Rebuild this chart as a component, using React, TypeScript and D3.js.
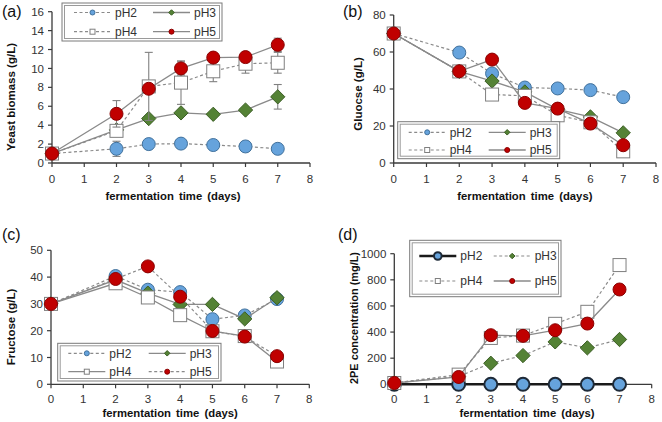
import React from 'react';
import * as d3 from 'd3';

// ---------- DATA ----------
const days = [0, 2, 3, 4, 5, 6, 7];
const xTickValues = [0, 1, 2, 3, 4, 5, 6, 7, 8];
const seriesNames = ['pH2', 'pH3', 'pH4', 'pH5'];

// (a) Yeast biomass (g/L)
const biomassPH2 = [1.0, 1.5, 2.0, 2.05, 1.9, 1.75, 1.5];
const biomassPH3 = [1.0, 3.5, 4.7, 5.3, 5.15, 5.6, 7.0];
const biomassPH4 = [1.0, 3.4, 8.1, 8.5, 9.7, 10.5, 10.6];
const biomassPH5 = [1.0, 5.2, 7.85, 10.0, 11.15, 11.2, 12.5];
const biomassErrPH2 = [0, 0.8, 0, 0, 0, 0, 0];
const biomassErrPH3 = [0, 0, 0, 0, 0, 0, 1.3];
const biomassErrPH4 = [0, 0, 3.6, 2.3, 1.1, 1.0, 1.1];
const biomassErrPH5 = [0, 1.4, 0, 0.7, 0.3, 0.3, 0.7];
const biomassTicks = [0, 2, 4, 6, 8, 10, 12, 14, 16];

// (b) Glucose (g/L)
const glucosePH2 = [70, 59.7, 48.4, 40.8, 40.3, 39.4, 35.6];
const glucosePH3 = [70, 49.5, 44.3, 38.4, 29.0, 24.9, 16.3];
const glucosePH4 = [70, 49.5, 37.0, 36.3, 25.8, 22.0, 6.3];
const glucosePH5 = [70, 49.6, 55.9, 32.5, 29.4, 21.3, 9.6];
const glucoseErrPH4 = [0, 0, 3, 0, 0, 0, 0];
const glucoseTicks = [0, 20, 40, 60, 80];

// (c) Fructose (g/L)
const fructosePH2 = [30, 40.4, 35.3, 34.4, 24.3, 25.7, 31.8];
const fructosePH3 = [30, 39.0, 34.0, 29.8, 29.8, 24.4, 32.3];
const fructosePH4 = [30, 37.7, 32.4, 25.8, 19.8, 18.0, 8.5];
const fructosePH5 = [30, 39.3, 44.0, 32.7, 19.9, 17.8, 10.5];
const fructoseTicks = [0, 10, 20, 30, 40, 50];

// (d) 2PE concentration (mg/L)
const pePH2 = [0, 0, 0, 0, 0, 0, 0];
const pePH3 = [10, 60, 161, 220, 325, 279, 343];
const pePH4 = [10, 74, 355, 373, 463, 555, 913];
const pePH5 = [10, 56, 376, 371, 414, 465, 726];
const peTicks = [0, 200, 400, 600, 800, 1000];

// ---------- STYLES ----------
const FONT = 'Arial, "Liberation Sans", Helvetica, sans-serif';
const LINE_GRAY = '#8a8a8a';
const AXIS = '#3a3a3a';
const TEXT = '#333333';

const markerStyles: Record<string, any> = {
  pH2: { shape: 'circle', fill: '#66a3dc', stroke: '#41719c' },
  pH3: { shape: 'diamond', fill: '#548235', stroke: '#3b5e24' },
  pH4: { shape: 'square', fill: '#ffffff', stroke: '#7f7f7f' },
  pH5: { shape: 'circle', fill: '#c00000', stroke: '#8a0000' },
};

function Marker({ name, cx, cy, size, bold }: any) {
  const st = markerStyles[name];
  const stroke = bold ? '#1e2a38' : st.stroke;
  const sw = bold ? 2 : 1;
  if (st.shape === 'circle')
    return <circle cx={cx} cy={cy} r={size} fill={st.fill} stroke={stroke} strokeWidth={sw} />;
  if (st.shape === 'square')
    return <rect x={cx - size} y={cy - size} width={size * 2} height={size * 2} fill={st.fill} stroke={stroke} strokeWidth={sw} />;
  const s = size * 1.1;
  return (
    <path d={`M${cx},${cy - s}L${cx + s},${cy}L${cx},${cy + s}L${cx - s},${cy}Z`} fill={st.fill} stroke={stroke} strokeWidth={sw} />
  );
}

function lineProps(style: string) {
  if (style === 'bold') return { stroke: '#1a1a1a', strokeWidth: 2.5, strokeDasharray: undefined };
  if (style === 'dash') return { stroke: LINE_GRAY, strokeWidth: 1.2, strokeDasharray: '3,2.5' };
  return { stroke: LINE_GRAY, strokeWidth: 1.3, strokeDasharray: undefined };
}

function Panel(p: any) {
  const x = d3.scaleLinear().domain([0, 8]).range([p.px0, p.px1]);
  const y = d3.scaleLinear().domain([0, p.yMax]).range([p.py0, p.py1]);
  const line = d3
    .line<number>()
    .x((_, i) => x(days[i]))
    .y((v) => y(v));
  const lg = p.legend;
  return (
    <g>
      <text x={p.label[1]} y={p.label[2]} fontSize={16} fontFamily={FONT} fill="#111">
        {p.label[0]}
      </text>
      <line x1={p.px0} x2={p.px0} y1={p.py0} y2={y(p.yMax)} stroke={AXIS} strokeWidth={1.3} />
      <line x1={p.px0} x2={x(8)} y1={p.py0} y2={p.py0} stroke={AXIS} strokeWidth={1.3} />
      {p.yTicks.map((t: number) => (
        <g key={'y' + t}>
          <line x1={p.px0 - 4} x2={p.px0} y1={y(t)} y2={y(t)} stroke={AXIS} strokeWidth={1.2} />
          <text x={p.px0 - 8} y={y(t)} dy="0.36em" textAnchor="end" fontSize={11.5} fontFamily={FONT} fill={TEXT}>
            {t}
          </text>
        </g>
      ))}
      {xTickValues.map((t) => (
        <g key={'x' + t}>
          <line x1={x(t)} x2={x(t)} y1={p.py0} y2={p.py0 + 4} stroke={AXIS} strokeWidth={1.2} />
          <text x={x(t)} y={p.py0 + p.xTickDy} textAnchor="middle" fontSize={11.5} fontFamily={FONT} fill={TEXT}>
            {t}
          </text>
        </g>
      ))}
      <text
        x={(p.px0 + p.px1) / 2 + p.xTitleDx}
        y={p.xTitleY}
        textAnchor="middle"
        fontSize={11.3}
        fontWeight="bold"
        fontFamily={FONT}
        fill="#111"
        wordSpacing={2}
      >
        fermentation time (days)
      </text>
      <text
        transform={`translate(${p.yTitle[1]},${p.yTitle[2]}) rotate(-90)`}
        textAnchor="middle"
        dy="0.36em"
        fontSize={p.yTitle[3]}
        fontWeight="bold"
        fontFamily={FONT}
        fill="#111"
      >
        {p.yTitle[0]}
      </text>
      {p.series.map((s: any) => {
        const lp = lineProps(s.style);
        return (
          <g key={s.name}>
            <path d={line(s.values) || ''} fill="none" {...lp} />
            {s.err &&
              s.values.map((v: number, i: number) =>
                s.err[i] > 0 ? (
                  <g key={'e' + i} stroke="#808080" strokeWidth={1.1}>
                    <line x1={x(days[i])} x2={x(days[i])} y1={y(v - s.err[i])} y2={y(v + s.err[i])} />
                    <line x1={x(days[i]) - 4} x2={x(days[i]) + 4} y1={y(v - s.err[i])} y2={y(v - s.err[i])} />
                    <line x1={x(days[i]) - 4} x2={x(days[i]) + 4} y1={y(v + s.err[i])} y2={y(v + s.err[i])} />
                  </g>
                ) : null
              )}
            {s.values.map((v: number, i: number) => (
              <Marker key={'m' + i} name={s.name} cx={x(days[i])} cy={y(v)} size={6.5} bold={s.style === 'bold'} />
            ))}
          </g>
        );
      })}
      <g>
        <rect x={lg.x} y={lg.y} width={lg.w} height={lg.h} fill="#fff" stroke="#7a7a7a" strokeWidth={1} />
        <rect x={lg.x + 2.5} y={lg.y + 2.5} width={lg.w - 5} height={lg.h - 5} fill="none" stroke="#9a9a9a" strokeWidth={1} />
        {p.series.map((s: any, k: number) => {
          const col = k % 2;
          const row = Math.floor(k / 2);
          const ox = lg.x + (col === 0 ? lg.c1 : lg.c2);
          const oy = lg.y + (row === 0 ? lg.r1 : lg.r2);
          const lp = lineProps(s.style);
          return (
            <g key={'l' + s.name}>
              <line x1={ox} x2={ox + 37} y1={oy} y2={oy} {...lp} />
              <Marker name={s.name} cx={ox + 18.5} cy={oy} size={s.style === 'bold' ? 3.8 : 2.5} bold={s.style === 'bold'} />
              <text x={ox + 41} y={oy} dy="0.36em" fontSize={12} fontFamily={FONT} fill={TEXT}>
                {s.name}
              </text>
            </g>
          );
        })}
      </g>
    </g>
  );
}

export default function App() {
  const panelA = {
    px0: 52, px1: 310, py0: 163, py1: 11.7, yMax: 16, yTicks: biomassTicks, xTickDy: 20,
    label: ['(a)', 2, 17], yTitle: ['Yeast biomass (g/L)', 11, 97, 11.5], xTitleY: 199.5, xTitleDx: -8,
    series: [
      { name: seriesNames[0], values: biomassPH2, err: biomassErrPH2, style: 'dash' },
      { name: seriesNames[1], values: biomassPH3, err: biomassErrPH3, style: 'solid' },
      { name: seriesNames[2], values: biomassPH4, err: biomassErrPH4, style: 'dash' },
      { name: seriesNames[3], values: biomassPH5, err: biomassErrPH5, style: 'solid' },
    ],
    legend: { x: 62, y: 3, w: 160, h: 38, c1: 12, c2: 91, r1: 9.5, r2: 28.7 },
  };
  const panelB = {
    px0: 393.7, px1: 656, py0: 163, py1: 15, yMax: 80, yTicks: glucoseTicks, xTickDy: 20,
    label: ['(b)', 343, 17], yTitle: ['Gluocse (g/L)', 357.7, 94, 11.5], xTitleY: 199.5, xTitleDx: 0,
    series: [
      { name: seriesNames[0], values: glucosePH2, style: 'dash' },
      { name: seriesNames[1], values: glucosePH3, style: 'solid' },
      { name: seriesNames[2], values: glucosePH4, err: glucoseErrPH4, style: 'dash' },
      { name: seriesNames[3], values: glucosePH5, style: 'solid' },
    ],
    legend: { x: 397.7, y: 121.7, w: 162, h: 37, c1: 11, c2: 91, r1: 10.6, r2: 28.3 },
  };
  const panelC = {
    px0: 51, px1: 309.3, py0: 384.3, py1: 250.3, yMax: 50, yTicks: fructoseTicks, xTickDy: 18.5,
    label: ['(c)', 2, 240], yTitle: ['Fructose (g/L)', 11, 327, 11.5], xTitleY: 417, xTitleDx: -10,
    series: [
      { name: seriesNames[0], values: fructosePH2, style: 'dash' },
      { name: seriesNames[1], values: fructosePH3, style: 'solid' },
      { name: seriesNames[2], values: fructosePH4, style: 'solid' },
      { name: seriesNames[3], values: fructosePH5, style: 'dash' },
    ],
    legend: { x: 57.7, y: 343.3, w: 163.3, h: 37.7, c1: 10.6, c2: 91, r1: 10, r2: 28.4 },
  };
  const panelD = {
    px0: 394.3, px1: 651.7, py0: 384.3, py1: 253.7, yMax: 1000, yTicks: peTicks, xTickDy: 18.5,
    label: ['(d)', 338, 240], yTitle: ['2PE concentration (mg/L)', 354, 318, 10.9], xTitleY: 417, xTitleDx: 4,
    series: [
      { name: seriesNames[0], values: pePH2, style: 'bold' },
      { name: seriesNames[1], values: pePH3, style: 'dash' },
      { name: seriesNames[2], values: pePH4, style: 'dash' },
      { name: seriesNames[3], values: pePH5, style: 'solid' },
    ],
    legend: { x: 409.7, y: 240.3, w: 151.3, h: 56.4, c1: 9.6, c2: 84, r1: 15.7, r2: 40.7 },
  };
  return (
    <svg
      width={662}
      height={422}
      viewBox="0 0 662 422"
      style={{ position: 'absolute', left: 0, top: 0, background: '#fff' }}
    >
      <rect width={662} height={422} fill="#fff" />
      <Panel {...panelA} />
      <Panel {...panelB} />
      <Panel {...panelC} />
      <Panel {...panelD} />
    </svg>
  );
}
